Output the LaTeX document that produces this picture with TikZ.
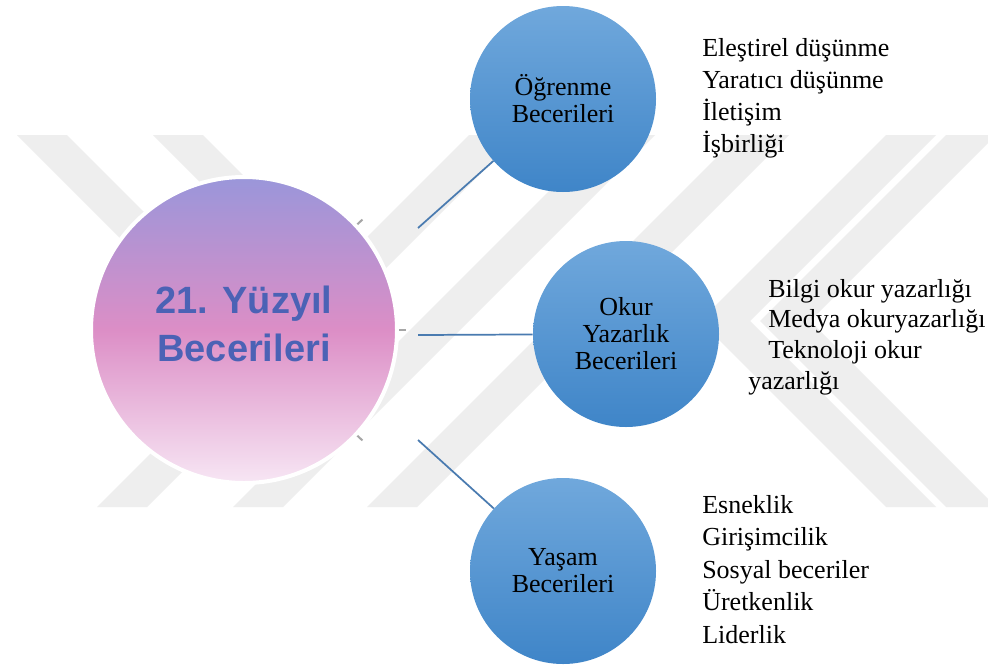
\documentclass[tikz,border=0pt]{standalone}
\usepackage{fontspec}
\setmainfont{Liberation Serif}
\newfontfamily\hubfont{Liberation Sans}

\definecolor{markgray}{HTML}{EEEEEE}
\definecolor{linkblue}{HTML}{4A7BB0}
\definecolor{skilltop}{HTML}{70A8DC}
\definecolor{skillbot}{HTML}{3F85C8}
\definecolor{hubtop}{HTML}{9A96DA}
\definecolor{hubmid}{HTML}{DC8EC6}
\definecolor{hubbot}{HTML}{F7E6F4}
\definecolor{hubtext}{HTML}{4B62B5}

\tikzset{
  hub/.style={circle, inner sep=0pt, minimum size=229.5pt, draw=white, line width=3pt,
    top color=hubtop, bottom color=hubbot, middle color=hubmid,
    align=center, text=hubtext, text depth=9pt,
    font=\hubfont\bfseries\fontsize{28.5}{36}\selectfont},
  skill/.style={circle, inner sep=0pt, minimum size=139.5pt,
    top color=skilltop, bottom color=skillbot,
    align=center, font=\fontsize{19.5}{20.3}\selectfont},
  itemlist/.style={anchor=north west, inner sep=0pt, align=left,
    font=\fontsize{19.5}{24}\selectfont},
  link/.style={draw=linkblue, line width=1.3pt},
  stub/.style={draw=gray!70, line width=1.5pt},
  band/.style={fill=markgray}
}

\begin{document}
\begin{tikzpicture}[x=0.75pt, y=-0.75pt]
  \path[fill=white, use as bounding box] (0,0) rectangle (988,668);

  \begin{scope}
    \clip (0,135) rectangle (988,507);
    \foreach \x in {17,153}
      \path[band] (\x,135) -- ++(50,0) -- ++(195,195) -- ++(-50,0) -- cycle;
    \foreach \x in {97,233,367}
      \path[band] (\x,507) -- ++(50,0) -- ++(372,-372) -- ++(-50,0) -- cycle;
    \foreach \x in {700,760}
      \path[band] (\x+186,135) -- (\x,321) -- (\x+186,507) -- (\x+236,507)
        -- (\x+50,321) -- (\x+236,135) -- cycle;
  \end{scope}

  \node[hub] (hub) at (244,330) {21. Yüzyıl\\Becerileri};
  \node[skill] (ogrenme) at (563,99) {Öğrenme\\Becerileri};
  \node[skill] (okur) at (626,334) {Okur\\Yazarlık\\Becerileri};
  \node[skill] (yasam) at (563,571) {Yaşam\\Becerileri};

  \coordinate (ogrenme-in) at (418,228);
  \coordinate (okur-in) at (418,335);
  \coordinate (yasam-in) at (418,440);

  \draw[link] (ogrenme-in) -- (ogrenme);
  \draw[link] (okur-in) -- (okur);
  \draw[link] (yasam-in) -- (yasam);

  \draw[stub] (hub.43) -- ++(-43:7);
  \draw[stub] (hub.0) -- ++(0:7);
  \draw[stub] (hub.-43) -- ++(43:7);

  \node[itemlist] (ogrenme-list) at (702,38)
    {Eleştirel düşünme\\Yaratıcı düşünme\\İletişim\\İşbirliği};
  \node[itemlist, font=\fontsize{19.5}{23}\selectfont] (okur-list) at (748,279)
    {\hspace*{15pt}Bilgi okur yazarlığı\\\hspace*{15pt}Medya okuryazarlığı\\\hspace*{15pt}Teknoloji okur\\yazarlığı};
  \node[itemlist, font=\fontsize{19.5}{24.4}\selectfont] (yasam-list) at (702,495)
    {Esneklik\\Girişimcilik\\Sosyal beceriler\\Üretkenlik\\Liderlik};
\end{tikzpicture}
\end{document}
